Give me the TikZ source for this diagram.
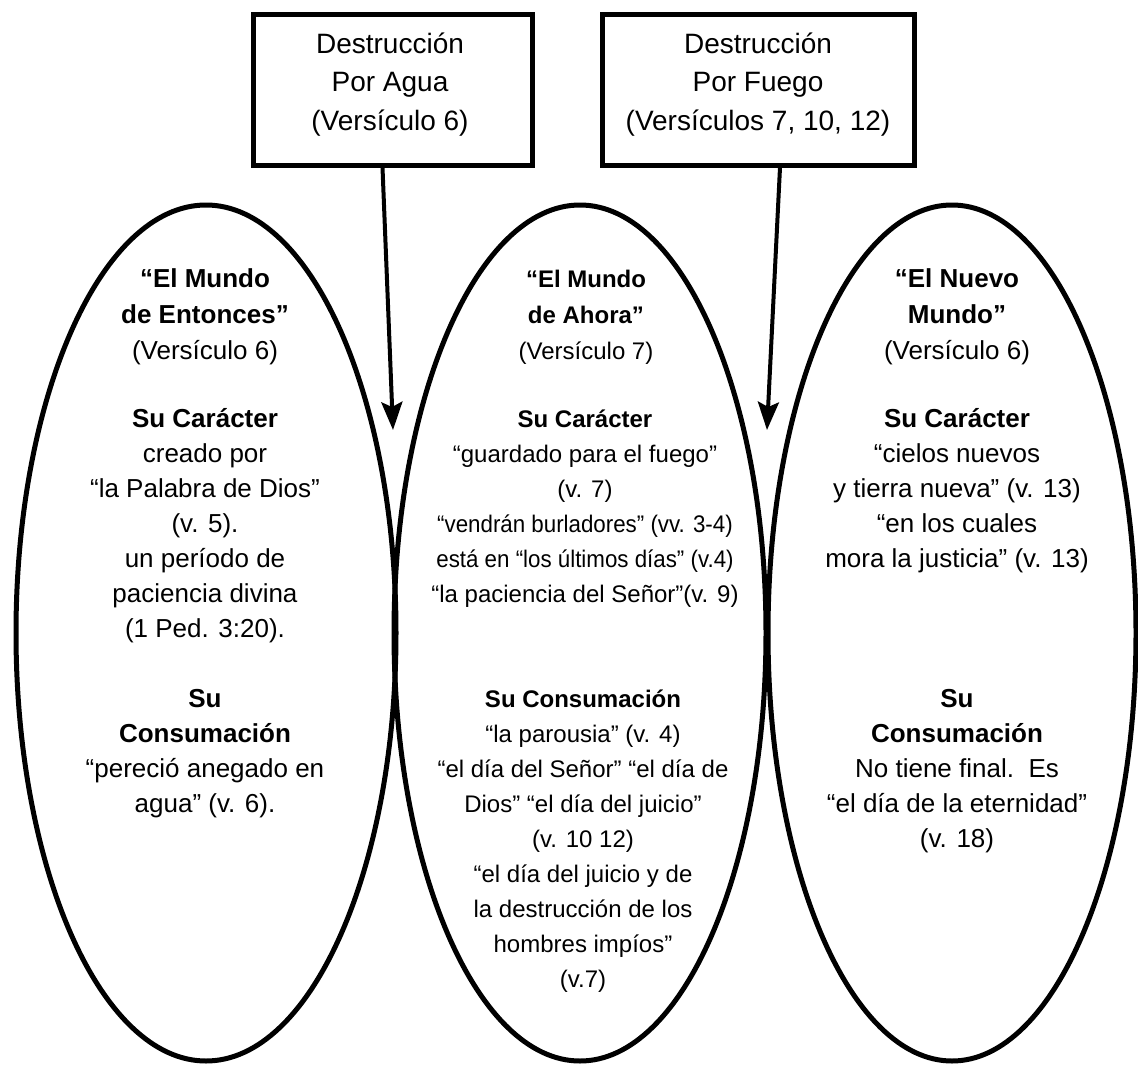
\documentclass[tikz,border=0pt]{standalone}
\usepackage{fontspec}
\setmainfont{Liberation Sans}
\usepackage{graphicx}
\usetikzlibrary{shapes.geometric,arrows.meta}

\begin{document}
% text nodes are placed by the baseline of their last line
\begin{tikzpicture}[x=1pt,y=-1pt,
  world/.style={ellipse, draw, line width=5pt, inner sep=0pt},
  frame/.style={rectangle, draw, line width=5pt, inner sep=0pt},
  boxtxt/.style={align=center, anchor=base, inner sep=0pt, font=\fontsize{28}{38.5}\selectfont},
  ttl/.style={align=center, anchor=base, inner sep=0pt, font=\fontsize{26}{36}\selectfont},
  body/.style={align=center, anchor=base, inner sep=0pt, font=\fontsize{26}{35}\selectfont},
  mttl/.style={align=center, anchor=base, inner sep=0pt, font=\fontsize{24}{36}\selectfont},
  mbody/.style={align=center, anchor=base, inner sep=0pt, font=\fontsize{24}{35}\selectfont},
  fall/.style={line width=4pt, -{Stealth[length=28pt,width=21pt,inset=5pt]}}
]
\useasboundingbox (0,0) rectangle (1138,1065);
\fill[white] (0,0) rectangle (1138,1065);

% the three worlds
\node[world, minimum width=380pt, minimum height=856pt] (then) at (206,633) {};
\node[world, minimum width=372pt, minimum height=856pt] (now)  at (580,633) {};
\node[world, minimum width=368pt, minimum height=856pt] (new)  at (952,633) {};

% the two destructions
\node[frame, minimum width=279pt, minimum height=150pt] (water) at (392.5,90) {};
\node[frame, minimum width=312pt, minimum height=150pt] (fire)  at (758,90) {};
\node[boxtxt] (watertxt) at (390,130) {Destrucción\\Por Agua\\(Versículo 6)};
\node[boxtxt] (firetxt)  at (758,130) {Destrucción\\Por Fuego\\(Versículos 7, 10, 12)};

\coordinate (waterhit) at (393,430);
\coordinate (firehit)  at (767,430);
\draw[fall] ([xshift=-10pt]water.south) -- (waterhit);
\draw[fall] ([xshift=22pt]fire.south) -- (firehit);

% left world
\node[ttl] (thenttl) at (205,359) {\textbf{“El Mundo}\\\textbf{de Entonces”}\\(Versículo 6)};
\node[body] (thenchar) at (205,637) {\textbf{Su Carácter}\\creado por\\“la Palabra de Dios”\\(v. 5).\\un período de\\paciencia divina\\(1 Ped. 3:20).};
\node[body] (thenend) at (205,812) {\textbf{Su}\\\textbf{Consumación}\\“pereció anegado en\\agua” (v. 6).};

% middle world
\node[mttl] (nowttl) at (586,359) {\textbf{“El Mundo}\\\textbf{de Ahora”}\\(Versículo 7)};
\node[mbody] (nowchar) at (585,602) {\textbf{Su Carácter}\\“guardado para el fuego”\\(v. 7)\\\scalebox{0.93}[1]{“vendrán burladores” (vv. 3-4)}\\\scalebox{0.93}[1]{está en “los últimos días” (v.4)}\\“la paciencia del Señor”(v. 9)};
\node[mbody] (nowend) at (583,987) {\textbf{Su Consumación}\\“la parousia” (v. 4)\\“el día del Señor” “el día de\\Dios” “el día del juicio”\\(v. 10 12)\\“el día del juicio y de\\la destrucción de los\\hombres impíos”\\(v.7)};

% right world
\node[ttl] (newttl) at (957,359) {\textbf{“El Nuevo}\\\textbf{Mundo”}\\(Versículo 6)};
\node[body] (newchar) at (957,567) {\textbf{Su Carácter}\\“cielos nuevos\\y tierra nueva” (v. 13)\\“en los cuales\\mora la justicia” (v. 13)};
\node[body] (newend) at (957,847) {\textbf{Su}\\\textbf{Consumación}\\No tiene final.\ \ Es\\“el día de la eternidad”\\(v. 18)};
\end{tikzpicture}
\end{document}
